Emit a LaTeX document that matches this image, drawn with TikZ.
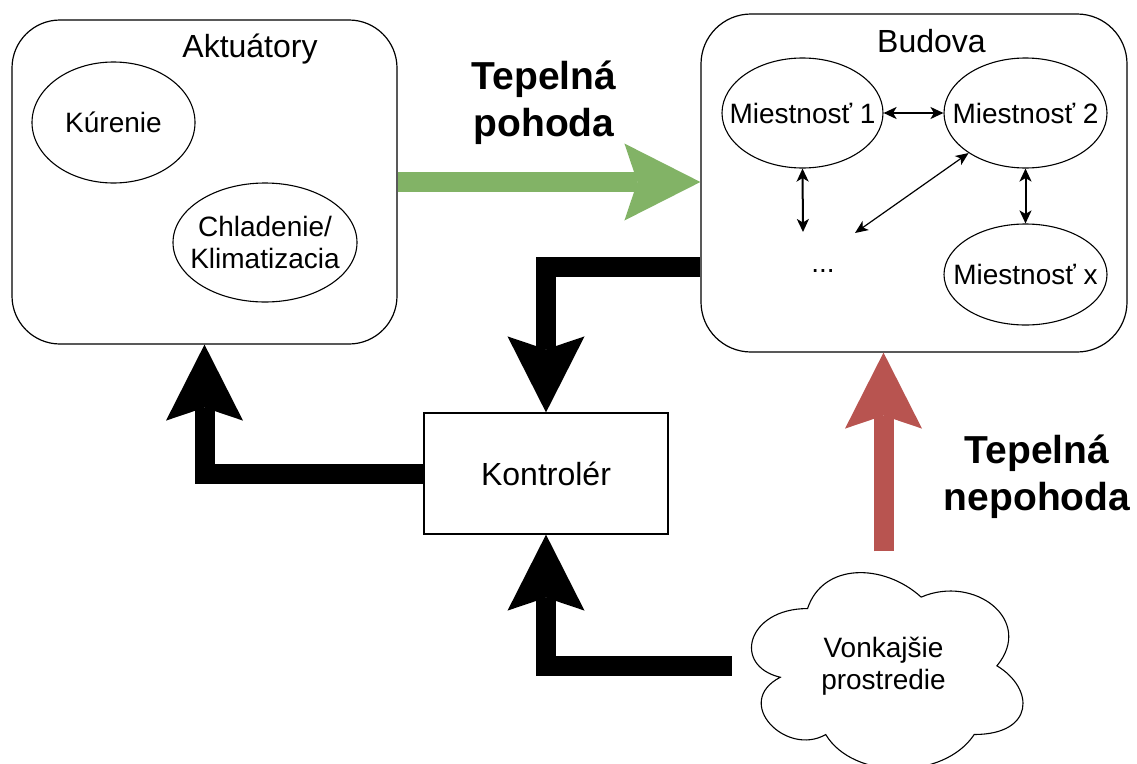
\documentclass[tikz,border=0pt]{standalone}
\usepackage{fontspec}
\setmainfont{Liberation Sans}
\usetikzlibrary{arrows.meta,shapes.geometric,calc}
\definecolor{arrgreen}{HTML}{82B366}
\definecolor{arrred}{HTML}{B85450}
\tikzset{
  box/.style={draw, line width=1.2pt, rounded corners=48pt, inner sep=0pt},
  ctrlbox/.style={draw, line width=1.2pt, inner sep=0pt},
  room/.style={draw, ellipse, line width=1.1pt, inner sep=0pt},
  roomtext/.style={font=\fontsize{28}{32}\selectfont, inner sep=0pt},
  titletext/.style={font=\fontsize{32}{38}\selectfont, anchor=base, inner sep=0pt},
  biglabel/.style={font=\bfseries\fontsize{39}{47}\selectfont, align=center, anchor=base, inner sep=0pt},
  bigarrow/.style={line width=20pt, line join=miter, -{Stealth[length=76pt,width=77pt,inset=13pt,line width=0pt]}},
  smallarrow/.style={line width=2pt, {Stealth[length=13pt,width=12pt,inset=3.5pt]}-{Stealth[length=13pt,width=12pt,inset=3.5pt]}},
  thinarrow/.style={line width=1.2pt, {Stealth[length=13pt,width=11pt,inset=3.5pt]}-{Stealth[length=13pt,width=11pt,inset=3.5pt]}},
}
\begin{document}
\begin{tikzpicture}[x=1pt,y=-1pt]
\useasboundingbox (0,0) rectangle (1137,763);
\clip (0,0) rectangle (1137,763);

% Aktuatory
\node[box, minimum width=385pt, minimum height=324pt] (akt) at (204.5,182) {};
\node[titletext] (akttitle) at (250,57) {Aktuátory};
\node[room, minimum width=163pt, minimum height=121pt,
      label={[roomtext]center:Kúrenie}] (kur) at (113.5,122.5) {};
\node[room, minimum width=184pt, minimum height=119pt,
      label={[roomtext, align=center]center:{Chladenie/\\Klimatizacia}}] (chl) at (265,242.5) {};

% Budova
\node[box, rounded corners=50pt, minimum width=426pt, minimum height=338pt] (bud) at (914,183) {};
\node[titletext] (budtitle) at (931.5,52) {Budova};
\node[room, minimum width=161pt, minimum height=110pt,
      label={[roomtext]center:Miestnosť 1}] (m1) at (802.5,113) {};
\node[room, minimum width=163pt, minimum height=110pt,
      label={[roomtext]center:Miestnosť 2}] (m2) at (1025.5,113) {};
\node[room, minimum width=163pt, minimum height=101pt,
      label={[roomtext]center:Miestnosť x}] (mx) at (1025.5,274.5) {};
\node[roomtext, anchor=base] (dots) at (823,272) {...};
\coordinate (d1) at (803,232);
\coordinate (d2) at (855,233);
\draw[smallarrow] (m1.east) -- (m2.west);
\draw[smallarrow] (m1.south) -- (d1);
\draw[thinarrow] (m2) -- (d2);
\draw[smallarrow] (m2.south) -- (mx.north);

% Kontroler
\node[ctrlbox, minimum width=244pt, minimum height=121pt, font=\fontsize{32}{38}\selectfont] (ctrl) at (546,473.5) {Kontrolér};

% Cloud
\node[inner sep=0pt, minimum width=303pt, minimum height=229pt, align=center,
      font=\fontsize{28}{32}\selectfont] (env) at (883.5,666) {Vonkajšie\\prostredie};
\begin{scope}[shift={(env.north west)}, x=303pt, y=-229pt]
  \draw[line width=1.1pt] (0.25,0.25) .. controls (0.05,0.25) and (0,0.5) .. (0.16,0.55)
    .. controls (0,0.66) and (0.18,0.9) .. (0.31,0.8)
    .. controls (0.4,1) and (0.7,1) .. (0.8,0.8)
    .. controls (1,0.8) and (1,0.6) .. (0.875,0.5)
    .. controls (1,0.3) and (0.8,0.1) .. (0.625,0.2)
    .. controls (0.5,0.05) and (0.3,0.05) .. (0.25,0.25) -- cycle;
\end{scope}

% Big arrows
\draw[bigarrow, draw=arrgreen] (akt.east) -- (akt.east -| bud.west);
\draw[bigarrow] ($(bud.west)+(0,84)$) -| (ctrl.north);
\draw[bigarrow] (ctrl.west) -| (akt.south);
\draw[bigarrow] (env.west) -| (ctrl.south);
\draw[bigarrow, draw=arrred] (env.north) -- (env.north |- bud.south);

% Labels (base = baseline of last line)
\node[biglabel] (pohoda) at (544,136) {Tepelná\\pohoda};
\node[biglabel] (nepohoda) at (1037,510) {Tepelná\\nepohoda};
\end{tikzpicture}
\end{document}
